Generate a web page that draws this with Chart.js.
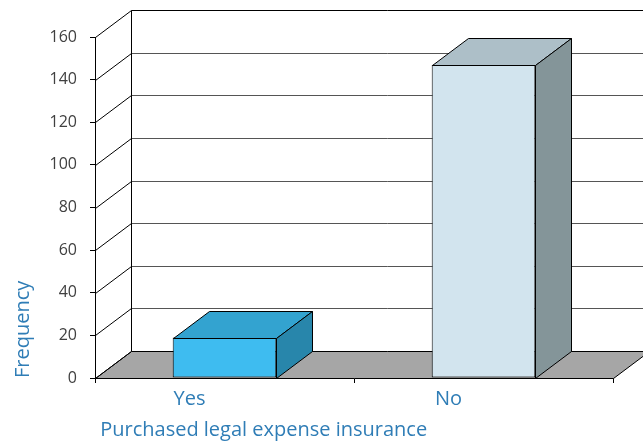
<!DOCTYPE html>
<html>
<head>
<meta charset="utf-8">
<script src="https://cdn.jsdelivr.net/npm/chart.js@4/dist/chart.umd.min.js"></script>
<style>
  html, body { margin: 0; padding: 0; background: #fff; }
  #wrap { width: 643px; height: 443px; }
</style>
</head>
<body>
<div id="wrap"><canvas id="chart"></canvas></div>
<script>
// survey answers
var categories = ['Yes', 'No'];
var frequency = [19, 147];
var yMin = 0, yMax = 160, yStep = 20;

// face colours per bar: front, top, right side
var frontColors = ['#3ebcf0', '#d2e4ee'];
var topColors = ['#33a3d0', '#adbfc8'];
var sideColors = ['#2886ab', '#849599'];

var textBlue = '#2f7db6';
var dx = 36, dy = -27; // depth of the 3d box

function px(v) { return Math.round(v) + 0.5; }

function poly(ctx, pts, fill) {
  ctx.beginPath();
  ctx.moveTo(pts[0][0], pts[0][1]);
  for (var i = 1; i < pts.length; i++) ctx.lineTo(pts[i][0], pts[i][1]);
  ctx.closePath();
  ctx.fillStyle = fill;
  ctx.fill();
  ctx.stroke();
}

var box3d = {
  id: 'box3d',
  beforeDatasetsDraw: function (chart) {
    var ctx = chart.ctx, a = chart.chartArea, y = chart.scales.y;
    ctx.save();
    ctx.lineWidth = 1;
    ctx.strokeStyle = '#000';
    // floor
    var b = px(a.bottom), l = px(a.left), r = px(a.right);
    poly(ctx, [[l, b], [r, b], [r + dx, b + dy], [l + dx, b + dy]], '#a6a6a6');
    // back wall lines and left wall diagonals
    y.ticks.forEach(function (t) {
      var py = px(y.getPixelForValue(t.value));
      if (t.value > yMin) {
        ctx.strokeStyle = t.value == yMax ? '#000' : '#555';
        ctx.beginPath();
        ctx.moveTo(l + dx, py + dy);
        ctx.lineTo(r + dx, py + dy);
        ctx.stroke();
      }
      ctx.strokeStyle = '#000';
      ctx.beginPath();
      ctx.moveTo(l, py);
      ctx.lineTo(l + dx, py + dy);
      ctx.stroke();
    });
    ctx.beginPath();
    ctx.moveTo(l + dx, px(a.top) + dy);
    ctx.lineTo(l + dx, b + dy);
    ctx.stroke();
    ctx.restore();
  },
  afterDatasetsDraw: function (chart) {
    var ctx = chart.ctx;
    var meta = chart.getDatasetMeta(0);
    ctx.save();
    ctx.lineWidth = 1;
    ctx.strokeStyle = '#000';
    meta.data.forEach(function (bar, i) {
      var p = bar.getProps(['x', 'y', 'base', 'width'], true);
      var l = px(p.x - p.width / 2), r = px(p.x + p.width / 2);
      var top = px(p.y), base = px(p.base);
      poly(ctx, [[l, top], [r, top], [r + dx, top + dy], [l + dx, top + dy]], topColors[i]);
      poly(ctx, [[r, top], [r + dx, top + dy], [r + dx, base + dy], [r, base]], sideColors[i]);
    });
    ctx.restore();
  }
};

window.addEventListener('load', function () {
  var ctx = document.getElementById('chart');
  new Chart(ctx, {
    type: 'bar',
    data: {
      labels: categories,
      datasets: [{
        label: 'Frequency',
        data: frequency,
        backgroundColor: frontColors,
        borderColor: '#000',
        borderWidth: 1,
        borderSkipped: false,
        categoryPercentage: 0.8,
        barPercentage: 0.5
      }]
    },
    options: {
      responsive: true,
      maintainAspectRatio: false,
      animation: false,
      layout: { padding: { top: 37, right: 30, left: 0, bottom: 0 } },
      plugins: {
        legend: { display: false },
        tooltip: { enabled: false }
      },
      scales: {
        x: {
          grid: { display: true, drawOnChartArea: false, drawTicks: true, tickLength: 5, color: '#000', offset: true },
          border: { display: true, color: '#000' },
          ticks: {
            color: textBlue,
            font: { family: 'Open Sans', size: 20 },
            padding: 4,
            labelOffset: -35
          },
          title: {
            display: true,
            text: ' Purchased legal expense insurance',
            color: textBlue,
            align: 'start',
            font: { family: 'Open Sans', size: 20 },
            padding: { top: 0, bottom: 1 }
          },
          afterFit: function (s) { s.height = 65; }
        },
        y: {
          min: yMin,
          max: yMax,
          ticks: {
            stepSize: yStep,
            color: '#404040',
            font: { family: 'Open Sans', size: 16 },
            padding: 13
          },
          grid: { display: true, drawOnChartArea: false, drawTicks: true, tickLength: 5, color: '#000' },
          border: { display: true, color: '#000' },
          title: {
            display: true,
            text: 'Frequency',
            color: textBlue,
            align: 'start',
            font: { family: 'Open Sans', size: 20 },
            padding: { top: 11, bottom: 0 }
          },
          afterFit: function (s) { s.width = 95; }
        }
      }
    },
    plugins: [box3d]
  });
});
</script>
</body>
</html>
